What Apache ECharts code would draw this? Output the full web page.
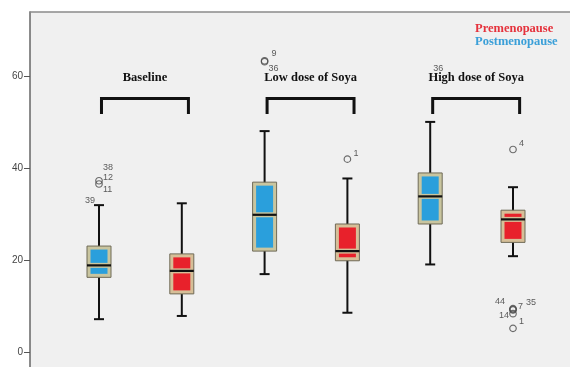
<!DOCTYPE html>
<html><head><meta charset="utf-8">
<script src="https://cdn.jsdelivr.net/npm/echarts@6/dist/echarts.min.js"></script>
<style>html,body{margin:0;padding:0;background:#fff;overflow:hidden}#c{width:570px;height:367px}</style>
</head><body><div id="c"></div>
<script>
// ---- data ----
const groups = ['Baseline', 'Low dose of Soya', 'High dose of Soya'];
const seriesNames = ['Premenopause', 'Postmenopause'];
// [min, Q1, median, Q3, max] per group
const postBoxes = [[7.2, 16.3, 18.9, 23.1, 32.0], [17.0, 22.0, 29.9, 37.0, 48.1], [19.1, 27.9, 33.9, 39.0, 50.1]];
const preBoxes  = [[7.9, 12.7, 17.7, 21.4, 32.4], [8.6, 19.9, 22.0, 27.9, 37.8], [20.9, 23.9, 28.9, 30.9, 35.9]];
// outliers: [group index, value]
const postOutliers = [[0, 37.3], [0, 36.6], [1, 63.4], [1, 63.2]];
const preOutliers  = [[1, 42.0], [2, 44.1], [2, 9.5], [2, 9.3], [2, 9.2], [2, 8.4], [2, 5.2]];
// case-number labels: [box index, value, case id]
const caseLabels = [
  [0, 40.1, '38'], [0, 37.9, '12'], [0, 35.5, '11'], [0, 32.9, '39'],
  [2, 64.9, '9'], [2, 61.8, '36'], [4, 61.8, '36'], [3, 43.3, '1'],
  [5, 45.3, '4'], [5, 11.1, '44'], [5, 9.9, '7'], [5, 10.9, '35'],
  [5, 7.9, '14'], [5, 6.7, '1']
];
const yTicks = [0, 20, 40, 60];

// ---- layout / style (not data) ----
const caseLabelDx = [4, 4, 4, -4, 7, 4, 3, 6, 6, -8, 5, 13, -4, 6];
const BLUE = '#2a9fdc', RED = '#e8212b';

const chart = echarts.init(document.getElementById('c'), null, {renderer: 'canvas'});

function boxSeriesData(boxes, offset) {
  return boxes.map((b, g) => [g * 2 + offset].concat(b));
}
function makeBoxRender(fill, ring) {
  return function (params, api) {
    const x = api.value(0);
    const v = [1, 2, 3, 4, 5].map(i => api.value(i));
    const p = v.map(val => api.coord([x, val]));
    const cx = p[0][0];
    const yMin = p[0][1], yQ1 = p[1][1], yMed = p[2][1], yQ3 = p[3][1], yMax = p[4][1];
    const W = 24, C = 10, ins = 3.5, mg = 2.5;
    const lineStyle = {stroke: '#111', lineWidth: 2};
    return {
      type: 'group',
      children: [
        {type: 'line', shape: {x1: cx, y1: yMax, x2: cx, y2: yMin}, style: lineStyle},
        {type: 'line', shape: {x1: cx - C / 2, y1: yMax, x2: cx + C / 2, y2: yMax}, style: lineStyle},
        {type: 'line', shape: {x1: cx - C / 2, y1: yMin, x2: cx + C / 2, y2: yMin}, style: lineStyle},
        {type: 'rect', shape: {x: cx - W / 2, y: yQ3, width: W, height: yQ1 - yQ3},
          style: {fill: ring, stroke: '#6f6a57', lineWidth: 1}},
        {type: 'rect', shape: {x: cx - W / 2 + ins, y: yQ3 + ins, width: W - 2 * ins, height: Math.max(0, yMed - yQ3 - ins - mg)},
          style: {fill: fill}},
        {type: 'rect', shape: {x: cx - W / 2 + ins, y: yMed + mg, width: W - 2 * ins, height: Math.max(0, yQ1 - yMed - ins - mg)},
          style: {fill: fill}},
        {type: 'line', shape: {x1: cx - W / 2, y1: yMed, x2: cx + W / 2, y2: yMed}, style: {stroke: '#111', lineWidth: 2.2}}
      ]
    };
  };
}

const outlierStyle = {color: 'rgba(0,0,0,0)', borderColor: '#4a4a4a', borderWidth: 1.2};

const option = {
  animation: false,
  backgroundColor: '#ffffff',
  graphic: [{
    type: 'rect', left: 30, top: 12, z: -10, silent: true,
    shape: {width: 560, height: 380}, style: {fill: '#f0f0f0'}
  }],
  grid: {left: 30, top: 12, right: 0, bottom: 0, show: false},
  legend: {
    data: [
      {name: seriesNames[0], textStyle: {color: '#e5323c'}},
      {name: seriesNames[1], textStyle: {color: '#3a9fd8'}}
    ],
    orient: 'vertical', left: 470, top: 22, padding: 0,
    icon: 'none', itemWidth: 0, itemHeight: 10, itemGap: 0,
    selectedMode: false,
    textStyle: {fontFamily: 'Liberation Serif', fontWeight: 'bold', fontSize: 12.5, lineHeight: 11.5}
  },
  xAxis: {
    type: 'value', position: 'top', min: -69 / 82.8, max: 471 / 82.8,
    axisLine: {show: true, onZero: false, lineStyle: {color: '#8a8a8a', width: 1.5}},
    axisTick: {show: false}, axisLabel: {show: false}, splitLine: {show: false}
  },
  yAxis: {
    type: 'value', min: -3.2, max: 74.0,
    axisLine: {show: true, onZero: false, lineStyle: {color: '#666', width: 1.5}},
    axisTick: {show: true, length: 6, lineStyle: {color: '#555', width: 1}, customValues: yTicks},
    axisLabel: {color: '#444', fontSize: 10, fontFamily: 'Liberation Sans', margin: 7, customValues: yTicks},
    splitLine: {show: false}
  },
  series: [
    {
      name: seriesNames[1], type: 'custom', renderItem: makeBoxRender(BLUE, '#c9c59f'),
      data: boxSeriesData(postBoxes, 0), encode: {x: 0, y: [1, 2, 3, 4, 5]}, z: 3
    },
    {
      name: seriesNames[0], type: 'custom', renderItem: makeBoxRender(RED, '#d6bf98'),
      data: boxSeriesData(preBoxes, 1), encode: {x: 0, y: [1, 2, 3, 4, 5]}, z: 3
    },
    {
      name: seriesNames[1], type: 'scatter', symbol: 'circle', symbolSize: 6.5,
      itemStyle: outlierStyle, data: postOutliers.map(o => [o[0] * 2, o[1]]), z: 4
    },
    {
      name: seriesNames[0], type: 'scatter', symbol: 'circle', symbolSize: 6.5,
      itemStyle: outlierStyle, data: preOutliers.map(o => [o[0] * 2 + 1, o[1]]), z: 4
    },
    {
      name: 'cases', type: 'scatter', symbolSize: 0, silent: true, z: 5,
      data: caseLabels.map((c, i) => ({
        value: [c[0], c[1]],
        label: {
          show: true, formatter: c[2], position: [caseLabelDx[i], 0],
          align: caseLabelDx[i] < 0 ? 'right' : 'left', verticalAlign: 'middle',
          color: '#333', fontSize: 9, fontFamily: 'Liberation Sans'
        }
      }))
    },
    {
      name: 'groups', type: 'custom', silent: true, z: 6,
      data: groups.map((g, i) => [i]),
      encode: {x: 0},
      renderItem: function (params, api) {
        const g = api.value(0);
        const a = api.coord([g * 2 + 0.03, 55.2]);
        const b = api.coord([g * 2 + 1.08, 51.8]);
        const t = api.coord([g * 2 + 0.555, 59.6]);
        return {
          type: 'group',
          children: [
            {type: 'polyline', shape: {points: [[a[0], b[1]], [a[0], a[1]], [b[0], a[1]], [b[0], b[1]]]},
              style: {stroke: '#111', lineWidth: 3, fill: null, lineJoin: 'miter'}},
            {type: 'text', x: t[0], y: t[1],
              style: {text: groups[g], align: 'center', verticalAlign: 'middle',
                font: 'bold 12.5px "Liberation Serif"', fill: '#111'}}
          ]
        };
      }
    }
  ]
};
chart.setOption(option);
</script>
</body></html>
